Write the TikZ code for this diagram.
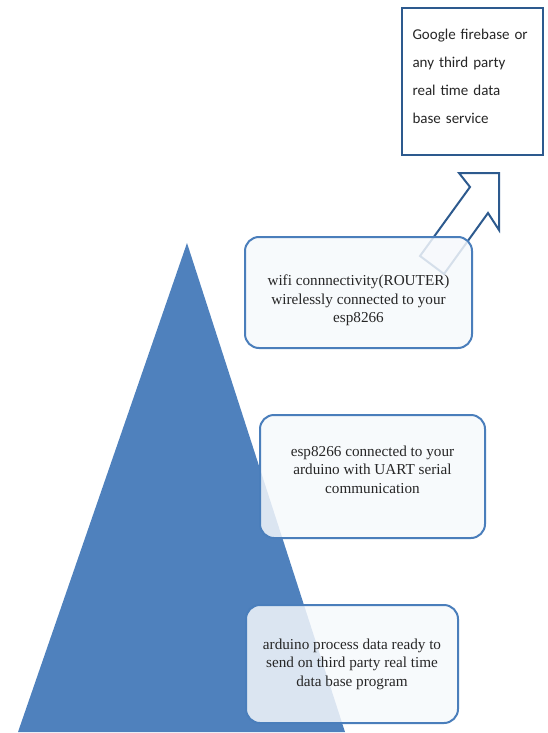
\documentclass[tikz,border=0pt]{standalone}
\usepackage{fontspec}
\setmainfont{Liberation Serif}
\newfontfamily\cloudfont{Carlito}
\usetikzlibrary{positioning}

\definecolor{triblue}{HTML}{4F81BD}
\definecolor{rimblue}{HTML}{4A7EBB}
\definecolor{darkrim}{HTML}{2D5A8E}

\tikzset{
  layerbox/.style={draw=rimblue,line width=2pt,rounded corners=14pt,
    fill=white!95!triblue,fill opacity=0.84,text opacity=1,
    text=black!85,align=center,font=\fontsize{15.2}{18.5}\selectfont},
  cloudbox/.style={draw=darkrim,line width=2pt,fill=white,text=black!85,
    align=left,font=\cloudfont\fontsize{15}{28}\selectfont}
}

\begin{document}
\begin{tikzpicture}[x=1pt,y=-1pt]
  \useasboundingbox (0,0) rectangle (547,733);

  % pyramid
  \path[fill=triblue] (187,243) -- (345,732) -- (18,732) -- cycle;

  % arrow to the cloud
  \coordinate (T1) at (420,256);
  \coordinate (T2) at (444,274);
  \draw[darkrim,line width=2pt,fill=white,line join=miter]
    (T1) -- (470,187) -- (459,173) -- (499,173) -- (499,230) -- (488,213) -- (T2) -- cycle;

  \node[cloudbox,minimum width=141pt,minimum height=147pt,text width=120pt] (cloud) at (472.5,81.5)
    {Google firebase or\\any third party\\real time data\\base service\rule[-11pt]{0pt}{1pt}};

  \node[layerbox,minimum width=227pt,minimum height=111pt] (wifi) at (358.5,292.5)
    {\rule{0pt}{27pt}wifi connnectivity(ROUTER)\\wirelessly connected to your\\esp8266};
  \node[layerbox,minimum width=225pt,minimum height=123pt] (esp) at (372.5,476.5)
    {esp8266 connected to your\\arduino with UART serial\\communication\rule[-14pt]{0pt}{1pt}};
  \node[layerbox,minimum width=212pt,minimum height=118pt] (arduino) at (352,664)
    {arduino process data ready to\\send on third party real time\\data base program};
\end{tikzpicture}
\end{document}
